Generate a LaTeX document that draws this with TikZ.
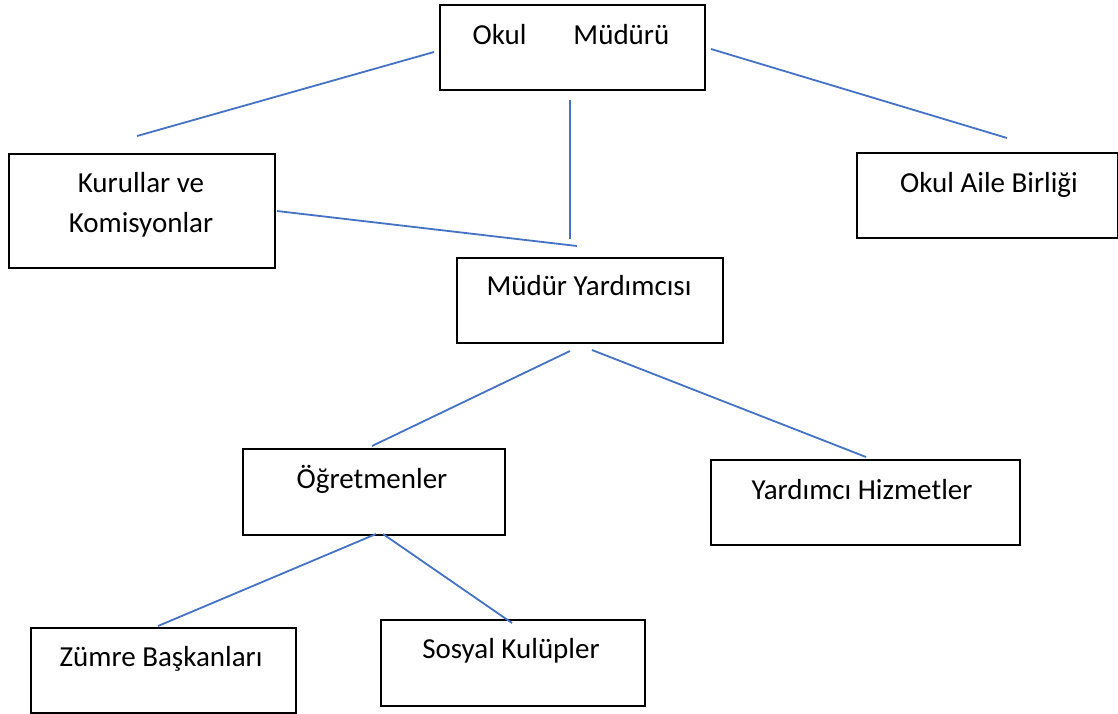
\documentclass[tikz,border=0pt]{standalone}
\usepackage{fontspec}
\setmainfont{Carlito}
\usepackage{tikz}
\usetikzlibrary{positioning}
\definecolor{orgblue}{RGB}{68,114,196}
\tikzstyle{box} = [draw=black, line width=2pt, rectangle, anchor=north west, inner sep=0pt]
\tikzstyle{boxtext} = [anchor=base, inner sep=0pt, font=\fontsize{29pt}{35pt}\selectfont]
\tikzstyle{link} = [line width=1.8pt, color=orgblue]

\begin{document}
\begin{tikzpicture}[x=1pt, y=-1pt]
\useasboundingbox (0,0) rectangle (1118,713);

% Boxes
\node[box, minimum width=265pt, minimum height=85pt] (mudur) at (439,4) {};
\node[box, minimum width=266pt, minimum height=114pt] (kurul) at (8,153) {};
\node[box, minimum width=261pt, minimum height=85pt] (aile) at (856,152) {};
\node[box, minimum width=266pt, minimum height=85pt] (yard) at (456,257) {};
\node[box, minimum width=262pt, minimum height=86pt] (ogret) at (242,448) {};
\node[box, minimum width=309pt, minimum height=85pt] (hizmet) at (710,459) {};
\node[box, minimum width=265pt, minimum height=85pt] (zumre) at (30,627) {};
\node[box, minimum width=264pt, minimum height=86pt] (sosyal) at (380,619) {};

% Texts
\node[boxtext] (mudurtext) at (571,44) {Okul\hspace{47pt}Müdürü};
\node[boxtext] (kurultext) at (141,192) {Kurullar ve};
\node[boxtext] (komtext) at (141,232) {Komisyonlar};
\node[boxtext] (ailetext) at (989,192) {Okul Aile Birliği};
\node[boxtext] (yardtext) at (589,295) {Müdür Yardımcısı};
\node[boxtext] (ogrettext) at (372,488) {Öğretmenler};
\node[boxtext] (hizmettext) at (862,499) {Yardımcı Hizmetler};
\node[boxtext] (zumretext) at (161,666) {Zümre Başkanları};
\node[boxtext] (sosyaltext) at (511,658) {Sosyal Kulüpler};

% Line ends
\coordinate (m1) at (434,52);
\coordinate (m2) at (570,100);
\coordinate (m3) at (711,49);
\coordinate (k1) at (137,136);
\coordinate (k2) at (277,211);
\coordinate (a1) at (1007,138);
\coordinate (y1) at (570,239);
\coordinate (y2) at (577,246);
\coordinate (y3) at (570,351);
\coordinate (y4) at (592,350);
\coordinate (o1) at (372,446);
\coordinate (o2) at (376,534);
\coordinate (o3) at (383,534);
\coordinate (h1) at (866,457);
\coordinate (z1) at (158,626);
\coordinate (s1) at (512,623);

% Lines
\draw[link] (m1) -- (k1);
\draw[link] (m2) -- (y1);
\draw[link] (m3) -- (a1);
\draw[link] (k2) -- (y2);
\draw[link] (y3) -- (o1);
\draw[link] (y4) -- (h1);
\draw[link] (o2) -- (z1);
\draw[link] (o3) -- (s1);
\end{tikzpicture}
\end{document}
